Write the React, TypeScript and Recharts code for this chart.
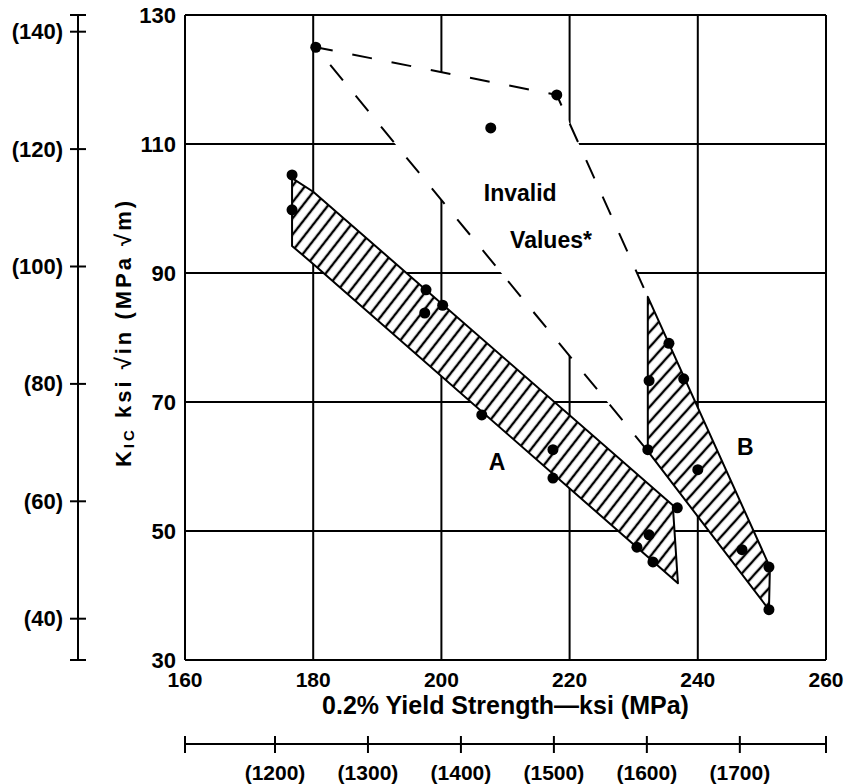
import React from 'react';
import { ScatterChart, Scatter, XAxis, YAxis, CartesianGrid, ReferenceDot } from 'recharts';

// unit conversions for the secondary (SI) axes
const KSI_TO_MPA = 6.895;
const KSIIN_TO_MPAM = 1.0988;

const X_TICKS = [160, 180, 200, 220, 240, 260];
const Y_TICKS = [30, 50, 70, 90, 110, 130];
const MPA_TICKS = [1200, 1300, 1400, 1500, 1600, 1700];
const MPAM_TICKS = [40, 60, 80, 100, 120, 140];

const MPA_MIN = 160 * KSI_TO_MPA;
const MPA_MAX = 260 * KSI_TO_MPA;
const MPAM_MIN = 30 * KSIIN_TO_MPAM;
const MPAM_MAX = 130 * KSIIN_TO_MPAM;

// measured K_IC values (ksi, ksi*sqrt(in))
const tests = [
  { x: 180.4, y: 125.0 },
  { x: 218.0, y: 117.6 },
  { x: 207.7, y: 112.5 },
  { x: 176.7, y: 105.2 },
  { x: 176.7, y: 99.8 },
  { x: 197.6, y: 87.4 },
  { x: 200.2, y: 85.0 },
  { x: 197.4, y: 83.8 },
  { x: 206.3, y: 68.0 },
  { x: 217.4, y: 62.6 },
  { x: 217.4, y: 58.2 },
  { x: 236.8, y: 53.6 },
  { x: 232.4, y: 49.4 },
  { x: 230.5, y: 47.5 },
  { x: 233.0, y: 45.2 },
  { x: 235.5, y: 79.1 },
  { x: 232.4, y: 73.3 },
  { x: 237.8, y: 73.6 },
  { x: 232.2, y: 62.6 },
  { x: 240.0, y: 59.5 },
  { x: 246.9, y: 47.1 },
  { x: 251.1, y: 44.4 },
  { x: 251.1, y: 37.8 },
];

// scatter band outlines
const bandA = [
  { x: 176.7, y: 104.7 },
  { x: 180.0, y: 102.6 },
  { x: 236.1, y: 54.0 },
  { x: 236.9, y: 41.9 },
  { x: 180.0, y: 91.4 },
  { x: 176.7, y: 94.2 },
];

const bandB = [
  { x: 232.2, y: 86.3 },
  { x: 251.25, y: 44.4 },
  { x: 251.1, y: 37.8 },
  { x: 232.2, y: 62.4 },
];

const invalidZone = [
  { x: 232.2, y: 62.4 },
  { x: 180.4, y: 125.0 },
  { x: 218.0, y: 117.6 },
  { x: 232.2, y: 86.3 },
];

const notes = [
  { x: 212.3, y: 102.4, text: 'Invalid' },
  { x: 217.1, y: 95.1, text: 'Values*' },
  { x: 208.7, y: 60.7, text: 'A' },
  { x: 247.4, y: 63.0, text: 'B' },
];

const siRange = [
  { mx: MPA_MIN, my: MPAM_MIN },
  { mx: MPA_MAX, my: MPAM_MAX },
];

const FONT = "'Liberation Sans', Arial, Helvetica, sans-serif";

const toPts = (pts: { x: number; y: number }[]) => pts.map(p => `${p.x},${p.y}`).join(' ');

const noDot = () => <g />;

const dot = (p: any) => <circle cx={p.cx} cy={p.cy} r={5.5} fill="#000" />;

const hatched = (id: string, angle: number) => (p: any) => (
  <g>
    <defs>
      <pattern id={id} patternUnits="userSpaceOnUse" width={10} height={10} patternTransform={`rotate(${angle})`}>
        <rect width={10} height={10} fill="#fff" />
        <line x1={5} y1={0} x2={5} y2={10} stroke="#000" strokeWidth={2.4} />
      </pattern>
    </defs>
    <polygon points={toPts(p.points)} fill={`url(#${id})`} stroke="#000" strokeWidth={2} strokeLinejoin="round" />
  </g>
);

const invalidShape = (p: any) => (
  <g>
    <polygon points={toPts(p.points)} fill="#fff" stroke="none" />
    <polyline points={toPts(p.points)} fill="none" stroke="#000" strokeWidth={2} strokeDasharray="20 20" />
  </g>
);

const MpaTick = (props: any) => {
  const { x, y, payload } = props;
  const show = MPA_TICKS.includes(payload.value);
  return (
    <g>
      <line x1={x} x2={x} y1={y - 8} y2={y + 9} stroke="#000" strokeWidth={2} />
      {show && (
        <text x={x} y={y + 28} textAnchor="middle" dominantBaseline="central" fontSize={21} fontWeight="bold" fontFamily={FONT} fill="#000">
          ({payload.value})
        </text>
      )}
    </g>
  );
};

const MpamTick = (props: any) => {
  const { x, y, payload } = props;
  const show = MPAM_TICKS.includes(payload.value);
  return (
    <g>
      <line x1={x - 8} x2={x + 8} y1={y} y2={y} stroke="#000" strokeWidth={2} />
      {show && (
        <text x={x - 15} y={y} textAnchor="end" dominantBaseline="central" fontSize={22} fontWeight="bold" fontFamily={FONT} fill="#000">
          ({payload.value})
        </text>
      )}
    </g>
  );
};

const XTitle = (props: any) => {
  const vb = props.viewBox;
  return (
    <text x={vb.x + vb.width / 2} y={vb.y + 45} textAnchor="middle" dominantBaseline="central" fontSize={25} fontWeight="bold" fontFamily={FONT} fill="#000">
      0.2% Yield Strength—ksi (MPa)
    </text>
  );
};

const YTitle = (props: any) => {
  const vb = props.viewBox;
  const cx = vb.x + 45;
  const cy = vb.y + vb.height / 2 - 5;
  return (
    <text transform={`rotate(-90 ${cx} ${cy})`} x={cx} y={cy} textAnchor="middle" dominantBaseline="central" fontSize={22} fontWeight="bold" fontFamily={FONT} fill="#000" letterSpacing={3}>
      K<tspan fontSize={15} dy={5}>IC</tspan>
      <tspan dy={-5}> ksi √in (MPa √m)</tspan>
    </text>
  );
};

const xTickStyle = { fontSize: 21, fontWeight: 'bold', fill: '#000', fontFamily: FONT };
const yTickStyle = { fontSize: 22, fontWeight: 'bold', fill: '#000', fontFamily: FONT };

export default function App() {
  return (
    <div style={{ position: 'absolute', left: 0, top: 0, background: '#fff' }}>
      <ScatterChart width={846} height={784} margin={{ top: 15, right: 20, bottom: 0, left: 0 }}>
        <CartesianGrid xAxisId="ksi" yAxisId="ksi" stroke="#000" strokeWidth={2} />
        <XAxis
          xAxisId="ksi"
          dataKey="x"
          type="number"
          domain={[160, 260]}
          ticks={X_TICKS}
          interval={0}
          height={84}
          tickLine={false}
          tickSize={0}
          tickMargin={12}
          axisLine={{ stroke: '#000', strokeWidth: 2 }}
          tick={xTickStyle}
          label={{ content: XTitle }}
        />
        <XAxis
          xAxisId="mpa"
          dataKey="mx"
          type="number"
          domain={[MPA_MIN, MPA_MAX]}
          ticks={[MPA_MIN, ...MPA_TICKS, MPA_MAX]}
          interval={0}
          height={40}
          tickLine={false}
          tickSize={0}
          tickMargin={0}
          axisLine={{ stroke: '#000', strokeWidth: 2 }}
          tick={MpaTick}
        />
        <YAxis
          yAxisId="ksi"
          dataKey="y"
          type="number"
          domain={[30, 130]}
          ticks={Y_TICKS}
          interval={0}
          width={107}
          tickLine={false}
          tickSize={0}
          tickMargin={9}
          axisLine={{ stroke: '#000', strokeWidth: 2 }}
          tick={yTickStyle}
          label={{ content: YTitle }}
        />
        <YAxis
          yAxisId="mpam"
          dataKey="my"
          type="number"
          domain={[MPAM_MIN, MPAM_MAX]}
          ticks={[MPAM_MIN, ...MPAM_TICKS, MPAM_MAX]}
          interval={0}
          width={78}
          tickLine={false}
          tickSize={0}
          tickMargin={0}
          axisLine={{ stroke: '#000', strokeWidth: 2 }}
          tick={MpamTick}
        />
        <Scatter xAxisId="mpa" yAxisId="mpam" data={siRange} shape={noDot} isAnimationActive={false} />
        <Scatter xAxisId="ksi" yAxisId="ksi" data={invalidZone} shape={noDot} line={invalidShape} isAnimationActive={false} />
        <Scatter xAxisId="ksi" yAxisId="ksi" data={bandA} shape={noDot} line={hatched('hatchA', 38)} isAnimationActive={false} />
        <Scatter xAxisId="ksi" yAxisId="ksi" data={bandB} shape={noDot} line={hatched('hatchB', 42)} isAnimationActive={false} />
        <Scatter xAxisId="ksi" yAxisId="ksi" data={tests} shape={dot} isAnimationActive={false} />
        {notes.map(n => (
          <ReferenceDot
            key={n.text}
            xAxisId="ksi"
            yAxisId="ksi"
            x={n.x}
            y={n.y}
            r={0}
            stroke="none"
            label={{ value: n.text, position: 'center', fontSize: 23, fontWeight: 'bold', fill: '#000', fontFamily: FONT }}
          />
        ))}
      </ScatterChart>
    </div>
  );
}
